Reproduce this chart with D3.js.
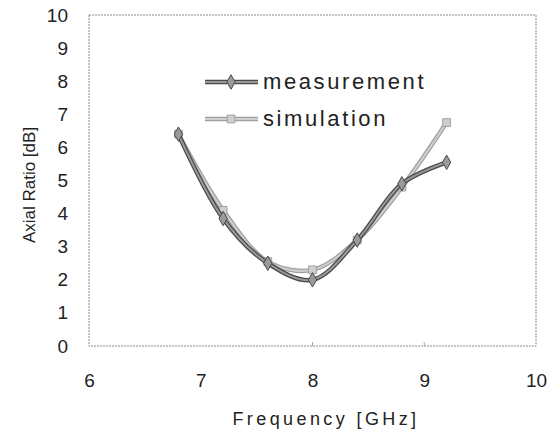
<!DOCTYPE html>
<html>
<head>
<meta charset="utf-8">
<script src="https://cdn.jsdelivr.net/npm/d3@7"></script>
<style>
  body { margin: 0; background: #fff; }
  text { font-family: "Liberation Sans", Arial, sans-serif; fill: #222; }
</style>
</head>
<body>
<div id="chart"></div>
<script>
var svgWidth = 548;
var svgHeight = 434;

var margin = { top: 15, right: 12, bottom: 88, left: 89 };
var width = svgWidth - margin.left - margin.right;
var height = svgHeight - margin.top - margin.bottom;

// data
var frequency = [6.8, 7.2, 7.6, 8.0, 8.4, 8.8, 9.2];
var measurement = [6.4, 3.85, 2.5, 2.0, 3.2, 4.9, 5.55];
var simulation = [6.4, 4.1, 2.55, 2.3, 3.2, 4.8, 6.75];
var xTicks = [6, 7, 8, 9, 10];
var yTicks = [0, 1, 2, 3, 4, 5, 6, 7, 8, 9, 10];

var svg = d3.select("#chart")
  .append("svg")
  .attr("width", svgWidth)
  .attr("height", svgHeight);

var chartGroup = svg.append("g")
  .attr("transform", `translate(${margin.left}, ${margin.top})`);

// Scale
var xScale = d3.scaleLinear().domain([6, 10]).range([0, width]);
var yScale = d3.scaleLinear().domain([0, 10]).range([height, 0]);

// Frame
chartGroup.append("rect")
  .attr("width", width)
  .attr("height", height)
  .attr("fill", "none")
  .attr("stroke", "#8a8a8a")
  .attr("stroke-width", 1)
  .attr("stroke-dasharray", "2,1");

// Axis
var bottomAxis = d3.axisBottom(xScale).tickValues(xTicks).tickFormat(d3.format("d"))
  .tickSize(0).tickPadding(28);
var leftAxis = d3.axisLeft(yScale).tickValues(yTicks).tickFormat(d3.format("d"))
  .tickSize(0).tickPadding(21);

var gx = chartGroup.append("g")
  .attr("transform", `translate(0, ${height})`)
  .call(bottomAxis);
var gy = chartGroup.append("g").call(leftAxis);

[gx, gy].forEach(function (g) {
  g.select(".domain").remove();
  g.selectAll("text")
    .style("font-size", "19px")
    .style("font-family", "\"Liberation Sans\", Arial, sans-serif")
    .attr("fill", "#222");
});

// small inner ticks on bottom
chartGroup.selectAll(".minor")
  .data([8, 9])
  .enter()
  .append("line")
  .attr("x1", d => xScale(d))
  .attr("x2", d => xScale(d))
  .attr("y1", height)
  .attr("y2", height - 4)
  .attr("stroke", "#aaa");

// Lines
var line = d3.line()
  .x(d => xScale(d[0]))
  .y(d => yScale(d[1]))
  .curve(d3.curveCatmullRom.alpha(0.5));

var simData = frequency.map((f, i) => [f, simulation[i]]);
var measData = frequency.map((f, i) => [f, measurement[i]]);

function drawSeries(data, outer, inner, symbol) {
  chartGroup.append("path")
    .datum(data)
    .attr("d", line)
    .attr("fill", "none")
    .attr("stroke", outer)
    .attr("stroke-width", 4.5);
  chartGroup.append("path")
    .datum(data)
    .attr("d", line)
    .attr("fill", "none")
    .attr("stroke", inner)
    .attr("stroke-width", 2);
  chartGroup.selectAll(null)
    .data(data)
    .enter()
    .append("path")
    .attr("transform", d => `translate(${xScale(d[0])}, ${yScale(d[1])})`)
    .attr("d", d3.symbol().type(symbol).size(60))
    .attr("fill", inner)
    .attr("stroke", outer)
    .attr("stroke-width", 1);
}

drawSeries(simData, "#a0a0a0", "#cfcfcf", d3.symbolSquare);
drawSeries(measData, "#4a4a4a", "#9a9a9a", d3.symbolDiamond);

// Legend
var legendItems = [
  { name: "measurement", y: 82, outer: "#4a4a4a", inner: "#9a9a9a", symbol: d3.symbolDiamond },
  { name: "simulation", y: 119, outer: "#a0a0a0", inner: "#cfcfcf", symbol: d3.symbolSquare }
];

var legend = svg.append("g");
legendItems.forEach(function (item) {
  legend.append("line")
    .attr("x1", 205).attr("x2", 258)
    .attr("y1", item.y).attr("y2", item.y)
    .attr("stroke", item.outer).attr("stroke-width", 4.5);
  legend.append("line")
    .attr("x1", 205).attr("x2", 258)
    .attr("y1", item.y).attr("y2", item.y)
    .attr("stroke", item.inner).attr("stroke-width", 2);
  legend.append("path")
    .attr("transform", `translate(231, ${item.y})`)
    .attr("d", d3.symbol().type(item.symbol).size(60))
    .attr("fill", item.inner)
    .attr("stroke", item.outer);
  legend.append("text")
    .attr("x", 263)
    .attr("y", item.y + 7)
    .style("font-size", "22px")
    .style("letter-spacing", "2.6px")
    .text(item.name);
});

// Labels
svg.append("text")
  .attr("transform", "translate(35, 185) rotate(-90)")
  .attr("text-anchor", "middle")
  .style("font-size", "17px")
  .text("Axial Ratio [dB]");

svg.append("text")
  .attr("x", 326)
  .attr("y", 425)
  .attr("text-anchor", "middle")
  .style("font-size", "18px")
  .style("letter-spacing", "3.4px")
  .text("Frequency [GHz]");
</script>
</body>
</html>
